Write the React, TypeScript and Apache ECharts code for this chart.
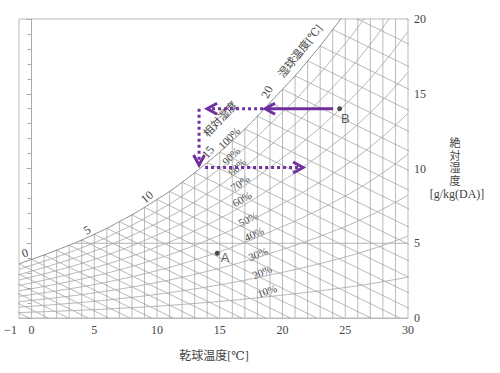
import React, { useEffect, useRef } from 'react';
import * as echarts from 'echarts';

// Saturation absolute humidity [g/kg(DA)], per 1 °C
const satTemps = [-10, -9, -8, -7, -6, -5, -4, -3, -2, -1, 0, 1, 2, 3, 4, 5, 6, 7, 8, 9, 10, 11, 12, 13, 14, 15, 16, 17, 18, 19, 20, 21, 22, 23, 24, 25, 26, 27, 28, 29, 30];
const satHumidity = [1.67, 1.83, 2.0, 2.18, 2.38, 2.6, 2.84, 3.08, 3.34, 3.62, 3.92, 4.22, 4.54, 4.87, 5.22, 5.6, 6.0, 6.45, 6.9, 7.4, 7.93, 8.47, 9.08, 9.72, 10.4, 11.1, 11.85, 12.65, 13.5, 14.4, 15.3, 16.2, 17.2, 18.2, 19.3, 20.4, 21.6, 22.9, 24.3, 25.8, 27.4];
const rhLevels = [10, 20, 30, 40, 50, 60, 70, 80, 90];
const wetBulbSlope = 0.41; // g/kg per °C along a wet-bulb line
const wetBulbRange = [-6, 26];
const horizontalGrid = [5];

const xTickValues = [-1, 0, 5, 10, 15, 20, 25, 30];

const pointNames = ['A', 'B'];
const pointTemps = [14.8, 24.55];
const pointHumidity = [4.33, 14.0];

const arrowFromT = [24.03, 18.45, 13.35, 13.83];
const arrowFromX = [14.0, 14.0, 14.0, 10.07];
const arrowToT = [18.61, 13.99, 13.35, 21.64];
const arrowToX = [14.0, 14.0, 10.23, 10.07];
const arrowDotted = [0, 1, 1, 1];

const wetBulbLabels = ['0', '5', '10', '15', '20'];
const rhLabels = ['100%', '90%', '80%', '70%', '60%', '50%', '40%', '30%', '20%', '10%'];
const rightTitleChars = ['絶', '対', '湿', '度'];

const SERIF = "'Liberation Serif','DejaVu Serif','Noto Sans CJK JP',serif";
const TXT = '#444';
const PURPLE = '#7030A0';

function satAt(t: number): number {
  return satHumidity[t - satTemps[0]];
}

function crossingTemp(x: number): number {
  for (let i = 1; i < satTemps.length; i++) {
    if (satHumidity[i] >= x) {
      const f = (x - satHumidity[i - 1]) / (satHumidity[i] - satHumidity[i - 1]);
      return satTemps[i - 1] + f;
    }
  }
  return satTemps[satTemps.length - 1];
}

function buildOption(): any {
  const series: any[] = [];
  const thin = (data: any[], color: string, width: number, smooth = false) => ({
    type: 'line',
    data,
    symbol: 'none',
    silent: true,
    smooth,
    clip: true,
    lineStyle: { color, width },
    z: 1,
  });

  // dry-bulb lines
  satTemps.filter((t) => t >= 0 && t < 30).forEach((t) => {
    series.push(thin([[t, 0], [t, satAt(t)]], '#bbb', 1));
  });
  // wet-bulb lines
  satTemps.filter((t) => t >= wetBulbRange[0] && t <= wetBulbRange[1]).forEach((tw) => {
    const xs = satAt(tw);
    series.push(thin([[tw, xs], [tw + xs / wetBulbSlope, 0]], '#8a8a8a', 0.6));
  });
  // relative humidity curves
  rhLevels.forEach((rh) => {
    series.push(
      thin(
        satTemps.filter((t) => t >= -1).map((t) => [t, (rh / 100) * satAt(t)]),
        '#aaa',
        0.9,
        true
      )
    );
  });
  // saturation curve
  series.push(thin(satTemps.filter((t) => t >= -1).map((t) => [t, satAt(t)]), '#888', 1, true));
  // horizontal humidity lines
  horizontalGrid.forEach((h) => {
    series.push(thin([[crossingTemp(h), h], [30, h]], '#aaa', 0.9));
  });

  // arrows
  series.push({
    type: 'custom',
    z: 5,
    silent: true,
    data: arrowFromT.map((t, i) => [t, arrowFromX[i], arrowToT[i], arrowToX[i], arrowDotted[i]]),
    encode: { x: [0, 2], y: [1, 3] },
    renderItem: (params: any, api: any) => {
      const p1 = api.coord([api.value(0), api.value(1)]);
      const p2 = api.coord([api.value(2), api.value(3)]);
      const dotted = api.value(4) === 1;
      const dx = p2[0] - p1[0];
      const dy = p2[1] - p1[1];
      const len = Math.sqrt(dx * dx + dy * dy) || 1;
      const ux = dx / len;
      const uy = dy / len;
      const back = 10;
      const half = 5.5;
      const a1 = [p2[0] - ux * back - uy * half, p2[1] - uy * back + ux * half];
      const a2 = [p2[0] - ux * back + uy * half, p2[1] - uy * back - ux * half];
      return {
        type: 'group',
        children: [
          {
            type: 'line',
            shape: { x1: p1[0], y1: p1[1], x2: p2[0] - ux * 1.5, y2: p2[1] - uy * 1.5 },
            style: { stroke: PURPLE, lineWidth: 3, lineDash: dotted ? [3, 3] : null, fill: null },
          },
          {
            type: 'polyline',
            shape: { points: [a1, p2, a2] },
            style: { stroke: PURPLE, lineWidth: 3, fill: null, lineJoin: 'miter' },
          },
        ],
      };
    },
  });

  // state points
  series.push({
    type: 'scatter',
    z: 6,
    symbol: 'circle',
    symbolSize: 5,
    itemStyle: { color: '#222' },
    data: pointNames.map((n, i) => ({
      name: n,
      value: [pointTemps[i], pointHumidity[i]],
      label: { position: i === 0 ? [6, 0] : [4, 6] },
    })),
    label: {
      show: true,
      formatter: (p: any) => p.name,
      fontFamily: "'Liberation Sans',Arial,sans-serif",
      fontSize: 13,
      color: '#333',
    },
  });

  const text = (t: string, x: number, y: number, rotDeg: number, size: number, extra: any = {}) => ({
    type: 'text',
    x,
    y,
    rotation: (rotDeg * Math.PI) / 180,
    silent: true,
    style: {
      text: t,
      fill: TXT,
      fontSize: size,
      fontFamily: SERIF,
      align: 'center',
      verticalAlign: 'middle',
      ...extra,
    },
  });

  const wbPos = [
    [25, 253, 20],
    [87, 230, 30],
    [147, 197, 40],
    [208, 152, 50],
    [267, 92, 62],
  ];
  const rhPos = [
    [229, 138, 45],
    [231, 156, 45],
    [237, 167, 42],
    [240, 183, 35],
    [242, 199, 30],
    [248, 219, 27],
    [254, 234, 25],
    [258, 254, 22],
    [262, 272, 22],
    [267, 291, 20],
  ];

  const graphic: any[] = [
    ...wetBulbLabels.map((t, i) => text(t, wbPos[i][0], wbPos[i][1], wbPos[i][2], 12)),
    ...rhLabels.map((t, i) => text(t, rhPos[i][0], rhPos[i][1], rhPos[i][2], 11)),
    text('湿球温度[℃]', 300, 51, 52, 11),
    text('相対湿度', 220, 119, 47, 11),
    text('乾球温度[℃]', 214, 356, 0, 12),
    ...rightTitleChars.map((c, i) => text(c, 455, 143 + i * 12.5, 0, 11)),
    text('[g/kg(DA)]', 457, 194, 0, 12),
  ];

  return {
    animation: false,
    backgroundColor: '#fff',
    grid: {
      left: 19,
      top: 19,
      width: 389,
      height: 299,
      show: true,
      borderColor: '#bbb',
      borderWidth: 1,
      backgroundColor: 'transparent',
    },
    xAxis: {
      type: 'value',
      min: -1,
      max: 30,
      splitLine: { show: false },
      axisLine: { show: true, lineStyle: { color: '#bbb' } },
      axisTick: { show: false },
      axisLabel: {
        customValues: xTickValues,
        color: TXT,
        fontFamily: SERIF,
        fontSize: 12,
        margin: 6,
        formatter: (v: number) => (v === -1 ? '{m|−1}' : String(v)),
        rich: { m: { padding: [0, 17, 0, 0], fontFamily: SERIF, fontSize: 12, color: TXT } },
      },
    },
    yAxis: {
      type: 'value',
      position: 'right',
      min: 0,
      max: 20,
      interval: 5,
      splitLine: { show: false },
      axisLine: { show: true, lineStyle: { color: '#aaa' } },
      axisTick: { show: true, inside: true, length: 5, lineStyle: { color: '#aaa' } },
      minorTick: { show: true, splitNumber: 5, length: 4, lineStyle: { color: '#aaa' } },
      axisLabel: { color: TXT, fontFamily: SERIF, fontSize: 12, margin: 6 },
    },
    series,
    graphic,
  };
}

export default function App() {
  const ref = useRef<HTMLDivElement>(null);
  useEffect(() => {
    if (!ref.current) return;
    const chart = echarts.init(ref.current, undefined, { renderer: 'svg' });
    chart.setOption(buildOption());
    return () => chart.dispose();
  }, []);
  return <div ref={ref} style={{ width: 500, height: 373, position: 'absolute', left: 0, top: 0 }} />;
}
